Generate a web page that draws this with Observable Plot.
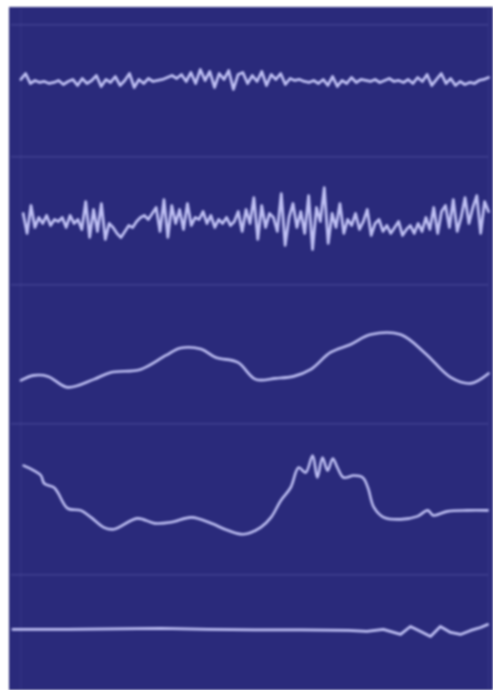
<!DOCTYPE html>
<html>
<head>
<meta charset="utf-8">
<script src="https://cdn.jsdelivr.net/npm/d3@7"></script>
<script src="https://cdn.jsdelivr.net/npm/@observablehq/plot@0.6"></script>
<style>
  html, body { margin: 0; padding: 0; background: #ffffff; }
  #chart { position: absolute; left: 9px; top: 7px; }
  #chart svg { display: block; filter: blur(0.9px); }
</style>
</head>
<body>
<div id="chart"></div>
<script>
// Channel names (one trace per channel, top to bottom)
const channels = ["Ch1", "Ch2", "Ch3", "Ch4", "Ch5"];

// Ch1: fast low-amplitude activity, evenly sampled over 0–10 s
const ch1Values = [-2,4,-6,-3,-5,-4,-6,-5,-3,-7, -4,-2,-8,-1,-6,-3,2,-9,-2,-5,
  1,-8,-3,4,-10,-2,-6,-1,-4,-3, -2,0,2,-1,3,-4,5,-6,8,-3,
  6,-10,4,-2,7,-12,3,5,-6,2, -4,6,-8,3,-2,4,-7,-1,-3,-2,
  -4,-5,-3,-6,-2,-8,1,-9,-3,-6, 0,-5,-2,-3,-4,-2,-5,-3,-1,-4,
  -3,-5,-2,-6,0,-4,3,-8,-2,4, -6,-1,-8,-4,-7,-5,-6,-3,-2,0];

// Ch2: fast high-amplitude spiky activity, evenly sampled over 0–10 s
const ch2Values = [0,-20,8,-14,-4,-10,-2,-12,-6,-8, -4,-14,-2,-10,-6,-16,12,-24,4,-18,
  10,-26,-10,-14,-20,-24,-18,-12,-14,-8, -4,-2,-6,0,6,-18,14,-24,8,-10,
  4,-16,10,-12,-4,-6,2,-10,-2,-14, -6,-10,-4,-12,-8,2,-18,4,-10,16,
  -26,8,-14,0,-4,-18,20,-32,-4,10, -14,2,-20,18,-36,6,-8,26,-30,0,
  -14,10,-20,-6,-12,0,-16,-8,4,-22, -10,-6,-18,-12,-20,-14,-8,-22,-16,-12,
  -20,-10,-18,-4,-16,6,-20,2,8,-14, 14,-18,-4,16,-10,6,18,-20,12,2];

// Ch3: slow wave
const ch3Times  = [0,0.28,0.58,1.0,1.56,1.92,2.56,3.1,3.42,3.85,4.17,4.64,5.02,5.45,5.83,6.2,6.62,7.05,7.48,8.12,8.65,9.19,9.62,10];
const ch3Values = [-31,-26,-27,-38,-30,-23,-20,-6,1.5,0.5,-8,-13,-30,-29,-27,-20,-3,5,15,15,-4,-28,-34,-24];

// Ch4: slow drift with a burst of oscillation
const ch4Times  = [0.06,0.28,0.43,0.5,0.71,0.79,1.0,1.28,1.5,1.77,1.99,2.49,2.86,3.21,3.65,4.07,4.42,4.76,5.13,5.35,5.56,5.77,5.94,6.09,6.24,6.34,6.45,6.56,6.67,6.77,6.9,7.12,7.31,7.42,7.55,7.76,8.12,8.48,8.7,8.82,9.12,9.55,9.98];
const ch4Values = [20,15,10,2,-2,-7,-23,-25,-32,-42,-44,-33,-38,-37,-32,-38,-45,-49,-42,-32,-15,-2,18,13,30,8,28,15,27,18,8,10,8,-2,-22,-32,-34,-31,-25,-30,-26,-25,-25];

// Ch5: nearly flat, small activity at the end
const ch5Times  = [-0.17,1,2,3,4,5,6,7,7.4,7.75,8.12,8.33,8.55,8.76,8.97,9.19,9.4,9.62,9.83,9.98];
const ch5Values = [-8,-8,-7.5,-7,-8,-8.5,-8.5,-9,-10,-8,-13,-5,-10,-15,-5,-11,-13,-9,-6,-3];

// Reference separator levels (one per channel, in signal units)
const separatorValues = [53, 57, 65, 62, 47];

// Build the long table
const rows = [];
ch1Values.forEach((v, i) => rows.push({ch: channels[0], t: i * 10 / (ch1Values.length - 1), v}));
ch2Values.forEach((v, i) => rows.push({ch: channels[1], t: 0.05 + i * 9.95 / (ch2Values.length - 1), v}));
ch3Values.forEach((v, i) => rows.push({ch: channels[2], t: ch3Times[i], v}));
ch4Values.forEach((v, i) => rows.push({ch: channels[3], t: ch4Times[i], v}));
ch5Values.forEach((v, i) => rows.push({ch: channels[4], t: ch5Times[i], v}));
const seps = channels.map((ch, i) => ({ch, v: separatorValues[i]}));

const lineColor = "#bfc0f4";
const smooth = new Set([channels[2], channels[3]]);

const plot = Plot.plot({
  width: 484,
  height: 683,
  marginTop: 0,
  marginBottom: 0,
  marginLeft: 2,
  marginRight: 5,
  style: {background: "#2a2a7b", overflow: "visible"},
  x: {domain: [-0.2, 10], axis: null},
  y: {domain: [-68.3, 68.3], axis: null},
  fy: {domain: channels, axis: null, padding: 0},
  marks: [
    Plot.ruleY(seps, {fy: "ch", y: "v", stroke: "#6a6ab8", strokeOpacity: 0.35, strokeWidth: 1.5}),
    Plot.ruleX([0, 10], {stroke: "#6a6ab8", strokeOpacity: 0.2, strokeWidth: 1}),
    Plot.line(rows.filter(d => !smooth.has(d.ch)), {
      x: "t", y: "v", fy: "ch", z: "ch",
      stroke: lineColor, strokeWidth: 2.8, strokeLinejoin: "round", strokeLinecap: "round"
    }),
    Plot.line(rows.filter(d => smooth.has(d.ch)), {
      x: "t", y: "v", fy: "ch", z: "ch", curve: "catmull-rom",
      stroke: lineColor, strokeWidth: 2.6, strokeLinejoin: "round", strokeLinecap: "round"
    })
  ]
});
document.getElementById("chart").appendChild(plot);
</script>
</body>
</html>
